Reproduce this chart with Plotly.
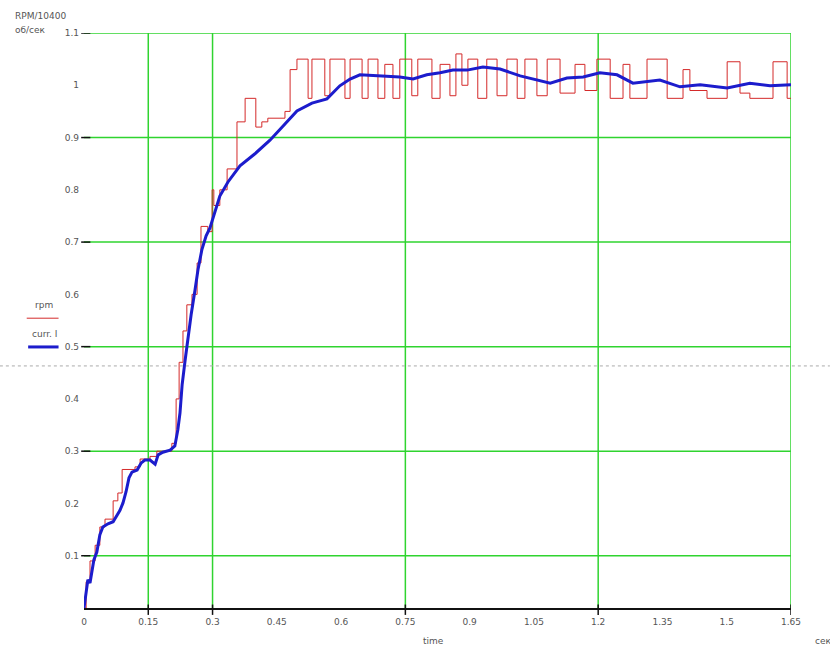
import plotly.graph_objects as go

# Motor speed (rpm / 10400), stepwise tachometer readout
rpm_t = [0.0, 0.005, 0.014, 0.026, 0.037, 0.049, 0.068, 0.079, 0.089, 0.119, 0.131, 0.154,
         0.170, 0.189, 0.205, 0.215, 0.222, 0.231, 0.240, 0.252, 0.264, 0.273, 0.289, 0.299,
         0.303, 0.317, 0.334, 0.357, 0.376, 0.401, 0.415, 0.429, 0.469, 0.481, 0.497,
         0.523, 0.532, 0.562, 0.574, 0.609, 0.621, 0.649, 0.663, 0.686, 0.702, 0.721, 0.737,
         0.765, 0.779, 0.812, 0.831, 0.854, 0.868, 0.882, 0.896, 0.919, 0.940, 0.964, 0.987,
         1.011, 1.029, 1.057, 1.081, 1.111, 1.146, 1.169, 1.197, 1.228, 1.258, 1.274, 1.314,
         1.361, 1.398, 1.414, 1.454, 1.501, 1.531, 1.554, 1.608, 1.641, 1.650]
rpm_v = [0.0, 0.05, 0.09, 0.12, 0.155, 0.17, 0.205, 0.22, 0.265, 0.27, 0.285, 0.29,
         0.30, 0.30, 0.315, 0.40, 0.47, 0.53, 0.58, 0.60, 0.66, 0.73, 0.72, 0.80,
         0.77, 0.80, 0.84, 0.93, 0.975, 0.92, 0.93, 0.937, 0.95, 1.03, 1.05,
         0.975, 1.05, 0.98, 1.05, 0.975, 1.05, 0.975, 1.05, 0.975, 1.04, 0.975, 1.05,
         0.98, 1.05, 0.975, 1.04, 0.98, 1.06, 1.0, 1.05, 0.975, 1.05, 0.98, 1.05,
         0.975, 1.05, 0.98, 1.05, 0.985, 1.04, 0.99, 1.05, 0.975, 1.04, 0.975, 1.05,
         0.975, 1.03, 0.99, 0.975, 1.045, 0.985, 0.975, 1.045, 0.975, 0.975]

# Current I (normalised), smoothed
cur_t = [0.0, 0.005, 0.009, 0.014, 0.019, 0.023, 0.030, 0.037, 0.044, 0.056, 0.068, 0.077,
         0.084, 0.091, 0.098, 0.105, 0.112, 0.124, 0.133, 0.142, 0.154, 0.166, 0.173, 0.184,
         0.201, 0.212, 0.219, 0.224, 0.229, 0.236, 0.243, 0.250, 0.259, 0.266, 0.275, 0.285,
         0.294, 0.306, 0.317, 0.336, 0.364, 0.399, 0.434, 0.469, 0.497, 0.532, 0.567, 0.597,
         0.621, 0.644, 0.691, 0.737, 0.768, 0.800, 0.831, 0.861, 0.894, 0.931, 0.971, 1.018,
         1.088, 1.127, 1.165, 1.204, 1.244, 1.281, 1.344, 1.391, 1.438, 1.501, 1.554, 1.601,
         1.650]
cur_v = [0.0, 0.034, 0.054, 0.048, 0.073, 0.092, 0.107, 0.140, 0.155, 0.161, 0.165, 0.178,
         0.187, 0.201, 0.222, 0.249, 0.260, 0.264, 0.277, 0.283, 0.283, 0.275, 0.293, 0.298,
         0.302, 0.310, 0.341, 0.373, 0.427, 0.474, 0.522, 0.561, 0.608, 0.647, 0.685, 0.712,
         0.727, 0.761, 0.788, 0.815, 0.846, 0.869, 0.895, 0.926, 0.951, 0.966, 0.974, 0.999,
         1.012, 1.020, 1.018, 1.016, 1.012, 1.020, 1.024, 1.029, 1.029, 1.035, 1.031, 1.018,
         1.004, 1.014, 1.016, 1.024, 1.020, 1.004, 1.010, 0.997, 1.001, 0.995, 1.004, 0.999,
         1.001]

x_ticks = [0, 0.15, 0.3, 0.45, 0.6, 0.75, 0.9, 1.05, 1.2, 1.35, 1.5, 1.65]
x_labels = ["0", "0.15", "0.3", "0.45", "0.6", "0.75", "0.9", "1.05", "1.2", "1.35", "1.5", "1.65"]
y_ticks = [0.1, 0.2, 0.3, 0.4, 0.5, 0.6, 0.7, 0.8, 0.9, 1.0, 1.1]
y_labels = ["0.1", "0.2", "0.3", "0.4", "0.5", "0.6", "0.7", "0.8", "0.9", "1", "1.1"]
x_grid = [0.15, 0.3, 0.75, 1.2, 1.65]
y_grid = [0.1, 0.3, 0.5, 0.7, 0.9, 1.1]

GREEN = "#2fd42f"
FONT = dict(family="DejaVu Sans", size=9, color="#555555")

fig = go.Figure()
fig.add_trace(go.Scatter(x=rpm_t, y=rpm_v, mode="lines", line_shape="hv",
                         line=dict(color="#d42a2a", width=1), name="rpm"))
fig.add_trace(go.Scatter(x=cur_t, y=cur_v, mode="lines",
                         line=dict(color="#1c1ccc", width=3), name="curr. I"))

shapes = []
for gx in x_grid:
    shapes.append(dict(type="line", xref="x", yref="paper", x0=gx, x1=gx, y0=0, y1=1,
                       line=dict(color=GREEN, width=1.5), layer="below"))
    shapes.append(dict(type="line", xref="x", yref="paper", x0=gx, x1=gx, y0=-0.012, y1=0.006,
                       line=dict(color="#111111", width=1.5)))
for gy in y_grid:
    shapes.append(dict(type="line", xref="paper", yref="y", x0=0, x1=1, y0=gy, y1=gy,
                       line=dict(color=GREEN, width=1.5), layer="below"))
    shapes.append(dict(type="line", xref="paper", yref="y", x0=-0.004, x1=0.009, y0=gy, y1=gy,
                       line=dict(color="#111111", width=1.5)))

# dotted divider across the sheet
shapes.append(dict(type="line", xref="paper", yref="paper", x0=-0.119, x1=1.055, y0=0.421, y1=0.421,
                   line=dict(color="#aaaaaa", width=1, dash="dot")))
# legend swatches
shapes.append(dict(type="line", xref="paper", yref="paper", x0=-0.081, x1=-0.036, y0=0.504, y1=0.504,
                   line=dict(color="#d42a2a", width=1)))
shapes.append(dict(type="line", xref="paper", yref="paper", x0=-0.079, x1=-0.036, y0=0.454, y1=0.454,
                   line=dict(color="#1c1ccc", width=3)))

annotations = [
    dict(text="RPM/10400", xref="paper", yref="paper", x=-0.1, y=1.03, xanchor="left",
         yanchor="middle", showarrow=False, font=FONT),
    dict(text="об/сек", xref="paper", yref="paper", x=-0.1, y=1.005, xanchor="left",
         yanchor="middle", showarrow=False, font=FONT),
    dict(text="rpm", xref="paper", yref="paper", x=-0.072, y=0.527, xanchor="left",
         yanchor="middle", showarrow=False, font=FONT),
    dict(text="curr. I", xref="paper", yref="paper", x=-0.077, y=0.477, xanchor="left",
         yanchor="middle", showarrow=False, font=FONT),
    dict(text="time", xref="paper", yref="paper", x=0.494, y=-0.058, xanchor="center",
         yanchor="middle", showarrow=False, font=FONT),
    dict(text="сек", xref="paper", yref="paper", x=1.031, y=-0.058, xanchor="left",
         yanchor="middle", showarrow=False, font=FONT),
]

fig.update_layout(
    width=830, height=653,
    margin=dict(l=84, r=39, t=33, b=45),
    paper_bgcolor="white", plot_bgcolor="white",
    showlegend=False,
    shapes=shapes, annotations=annotations,
    xaxis=dict(range=[0, 1.65], tickvals=x_ticks, ticktext=x_labels, showgrid=False,
               zeroline=False, showline=True, linecolor="#111111", linewidth=1.5,
               ticks="", tickfont=FONT, ticklabelstandoff=4),
    yaxis=dict(range=[0, 1.1], tickvals=y_ticks, ticktext=y_labels, showgrid=False,
               zeroline=False, showline=False, ticks="", tickfont=FONT, ticklabelstandoff=4),
)

fig.write_html("out.html")
